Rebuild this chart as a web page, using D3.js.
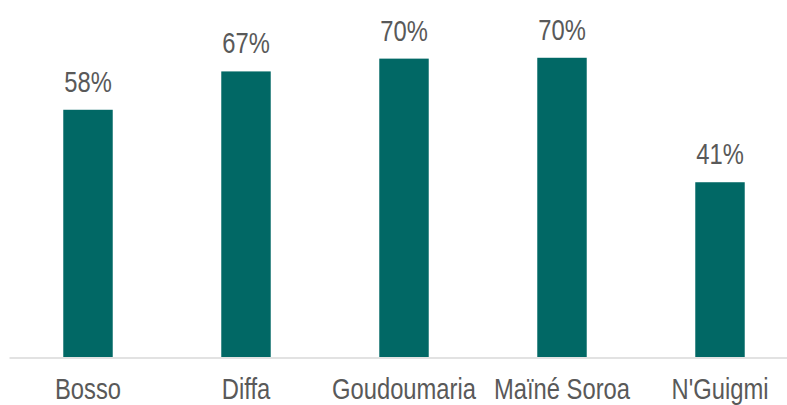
<!DOCTYPE html>
<html>
<head>
<meta charset="utf-8">
<script src="https://cdn.jsdelivr.net/npm/d3@7"></script>
<style>
  html, body { margin: 0; padding: 0; background: #fff; overflow: hidden; }
  svg text { font-family: "Liberation Sans", Arial, sans-serif; }
</style>
</head>
<body>
<div id="chart"></div>
<script>
const categories = ['Bosso', 'Diffa', 'Goudoumaria', 'Maïné Soroa', "N'Guigmi"];
const values = [0.58, 0.67, 0.70, 0.702, 0.41];

const width = 787;
const height = 405;
const baseline = 357;
// no narrow font installed, so squeeze Liberation Sans like Arial Narrow
const narrow = 0.82;

const svg = d3.select('#chart')
  .append('svg')
  .attr('width', width)
  .attr('height', height);

const x = d3.scaleBand()
  .domain(categories)
  .range([9, 799])
  .paddingInner(0.687)
  .paddingOuter(0.3435);

const y = d3.scaleLinear()
  .domain([0, 0.8])
  .range([baseline, 16]);

const data = categories.map((c, i) => ({ label: c, value: values[i] }));

svg.append('g')
  .attr('fill', '#016865')
  .selectAll('rect')
  .data(data)
  .enter()
  .append('rect')
  .attr('x', d => x(d.label))
  .attr('y', d => y(d.value))
  .attr('width', x.bandwidth())
  .attr('height', d => y(0) - y(d.value));

svg.append('g')
  .attr('fill', '#595959')
  .attr('font-size', 29)
  .attr('text-anchor', 'middle')
  .selectAll('text')
  .data(data)
  .enter()
  .append('text')
  .attr('transform', d =>
    `translate(${x(d.label) + x.bandwidth() / 2},${y(d.value) - 18}) scale(${narrow},1)`)
  .text(d => d3.format('.0%')(d.value));

const axis = svg.append('g')
  .attr('transform', `translate(0,${baseline + 0.5})`)
  .call(d3.axisBottom(x).tickSize(0));

axis.select('.domain')
  .attr('stroke', '#d9d9d9')
  .attr('stroke-width', 1.5);

axis.selectAll('text')
  .attr('fill', '#595959')
  .attr('font-size', 29)
  .attr('dy', 0)
  .attr('y', 0)
  .attr('transform', `translate(0,41) scale(${narrow},1)`);
</script>
</body>
</html>
